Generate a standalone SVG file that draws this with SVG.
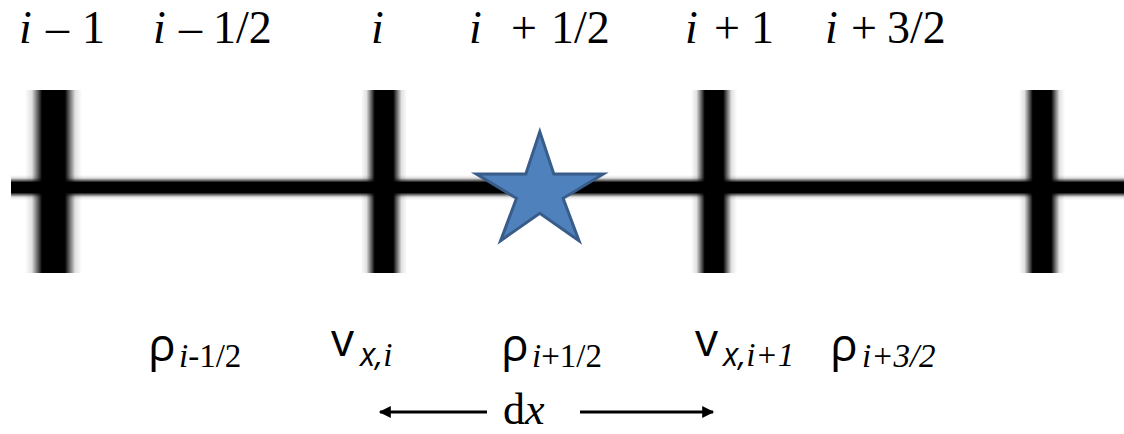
<svg xmlns="http://www.w3.org/2000/svg" width="1124" height="434" viewBox="0 0 1124 434">
<defs>
<linearGradient id="vbar" x1="0" y1="0" x2="1" y2="0">
<stop offset="0" stop-color="#000" stop-opacity="0"/>
<stop offset="0.12" stop-color="#000" stop-opacity="0.12"/>
<stop offset="0.22" stop-color="#000" stop-opacity="0.6"/>
<stop offset="0.3" stop-color="#000" stop-opacity="1"/>
<stop offset="0.7" stop-color="#000" stop-opacity="1"/>
<stop offset="0.78" stop-color="#000" stop-opacity="0.6"/>
<stop offset="0.88" stop-color="#000" stop-opacity="0.12"/>
<stop offset="1" stop-color="#000" stop-opacity="0"/>
</linearGradient>
<linearGradient id="hbar" x1="0" y1="0" x2="0" y2="1">
<stop offset="0" stop-color="#000" stop-opacity="0"/>
<stop offset="0.12" stop-color="#000" stop-opacity="0.12"/>
<stop offset="0.22" stop-color="#000" stop-opacity="0.6"/>
<stop offset="0.3" stop-color="#000" stop-opacity="1"/>
<stop offset="0.7" stop-color="#000" stop-opacity="1"/>
<stop offset="0.78" stop-color="#000" stop-opacity="0.6"/>
<stop offset="0.88" stop-color="#000" stop-opacity="0.12"/>
<stop offset="1" stop-color="#000" stop-opacity="0"/>
</linearGradient>
<marker id="ah" viewBox="0 0 10 10" refX="9" refY="5" markerWidth="5" markerHeight="4" orient="auto-start-reverse" markerUnits="strokeWidth">
<path d="M0,0 L10,5 L0,10 z" fill="#000"/>
</marker>
<style>
.top{font-family:"Liberation Serif","Times New Roman",serif;font-size:46px;fill:#000}
.it{font-style:italic}
.sans{font-family:"Open Sans","Noto Sans","DejaVu Sans",sans-serif;font-size:46px;fill:#000}
.sub{font-family:"Liberation Serif","Times New Roman",serif;font-size:33px;fill:#000}
.sansit{font-family:"Open Sans","Noto Sans","DejaVu Sans",sans-serif;font-style:italic;font-size:32px}
.bar{fill:url(#vbar)}
.conn{stroke:#000;stroke-width:3;fill:none}
</style>
</defs>
<rect width="1124" height="434" fill="#fff"/>

<g id="grid">
<rect x="11" y="175" width="1113" height="25" fill="url(#hbar)"/>
<rect id="bar-im1" class="bar" x="25" y="90" width="57" height="183"/>
<rect id="bar-i" class="bar" x="361" y="90" width="46" height="183"/>
<rect id="bar-ip1" class="bar" x="691" y="90" width="46" height="183"/>
<rect id="bar-ip2" class="bar" x="1019" y="90" width="46" height="183"/>
</g>

<g id="star">
<polygon points="539.8,131.7 553.8,174 603.3,174 563.1,198.3 579,240.7 539.8,213.3 500.6,240.7 516.5,198.3 476.3,174 525.8,174" fill="#4F81BD" stroke="#385D8A" stroke-width="3" stroke-linejoin="miter"/>
</g>

<g id="top-labels">
<text id="lbl-im1" class="top" y="43"><tspan class="it" x="19">i</tspan><tspan x="46">–</tspan><tspan x="82">1</tspan></text>
<text id="lbl-im12" class="top" y="43"><tspan class="it" x="153">i</tspan><tspan x="179">–</tspan><tspan x="213">1/2</tspan></text>
<text id="lbl-i" class="top" y="43"><tspan class="it" x="371">i</tspan></text>
<text id="lbl-ip12" class="top" y="43"><tspan class="it" x="469">i</tspan><tspan x="511">+</tspan><tspan x="551">1/2</tspan></text>
<text id="lbl-ip1" class="top" y="43"><tspan class="it" x="685">i</tspan><tspan x="714">+</tspan><tspan x="751">1</tspan></text>
<text id="lbl-ip32" class="top" y="43"><tspan class="it" x="825">i</tspan><tspan x="851">+</tspan><tspan x="887">3/2</tspan></text>
</g>

<g id="bottom-labels">
<text id="rho-im12" y="361"><tspan class="sans" x="148">ρ</tspan><tspan class="sub" x="179" y="367"><tspan class="it">i</tspan>-1/2</tspan></text>
<text id="v-i" y="356"><tspan class="sans" x="331">v</tspan><tspan class="sansit" x="360" y="366">x,</tspan><tspan class="sub it">i</tspan></text>
<text id="rho-ip12" y="361"><tspan class="sans" x="501">ρ</tspan><tspan class="sub" x="532" y="367"><tspan class="it">i</tspan>+1/2</tspan></text>
<text id="v-ip1" y="356"><tspan class="sans" x="695">v</tspan><tspan class="sansit" x="723" y="366">x,</tspan><tspan class="sub it">i+1</tspan></text>
<text id="rho-ip32" y="361"><tspan class="sans" x="830">ρ</tspan><tspan class="sub it" x="862" y="367">i+3/2</tspan></text>
</g>

<g id="connectors">
<line class="conn" x1="487" y1="412" x2="380" y2="412" marker-end="url(#ah)"/>
<line class="conn" x1="580" y1="412" x2="713" y2="412" marker-end="url(#ah)"/>
</g>
<g id="dx-label">
<text class="top" x="503" y="424" style="font-size:44px">d<tspan class="it">x</tspan></text>
</g>
</svg>
